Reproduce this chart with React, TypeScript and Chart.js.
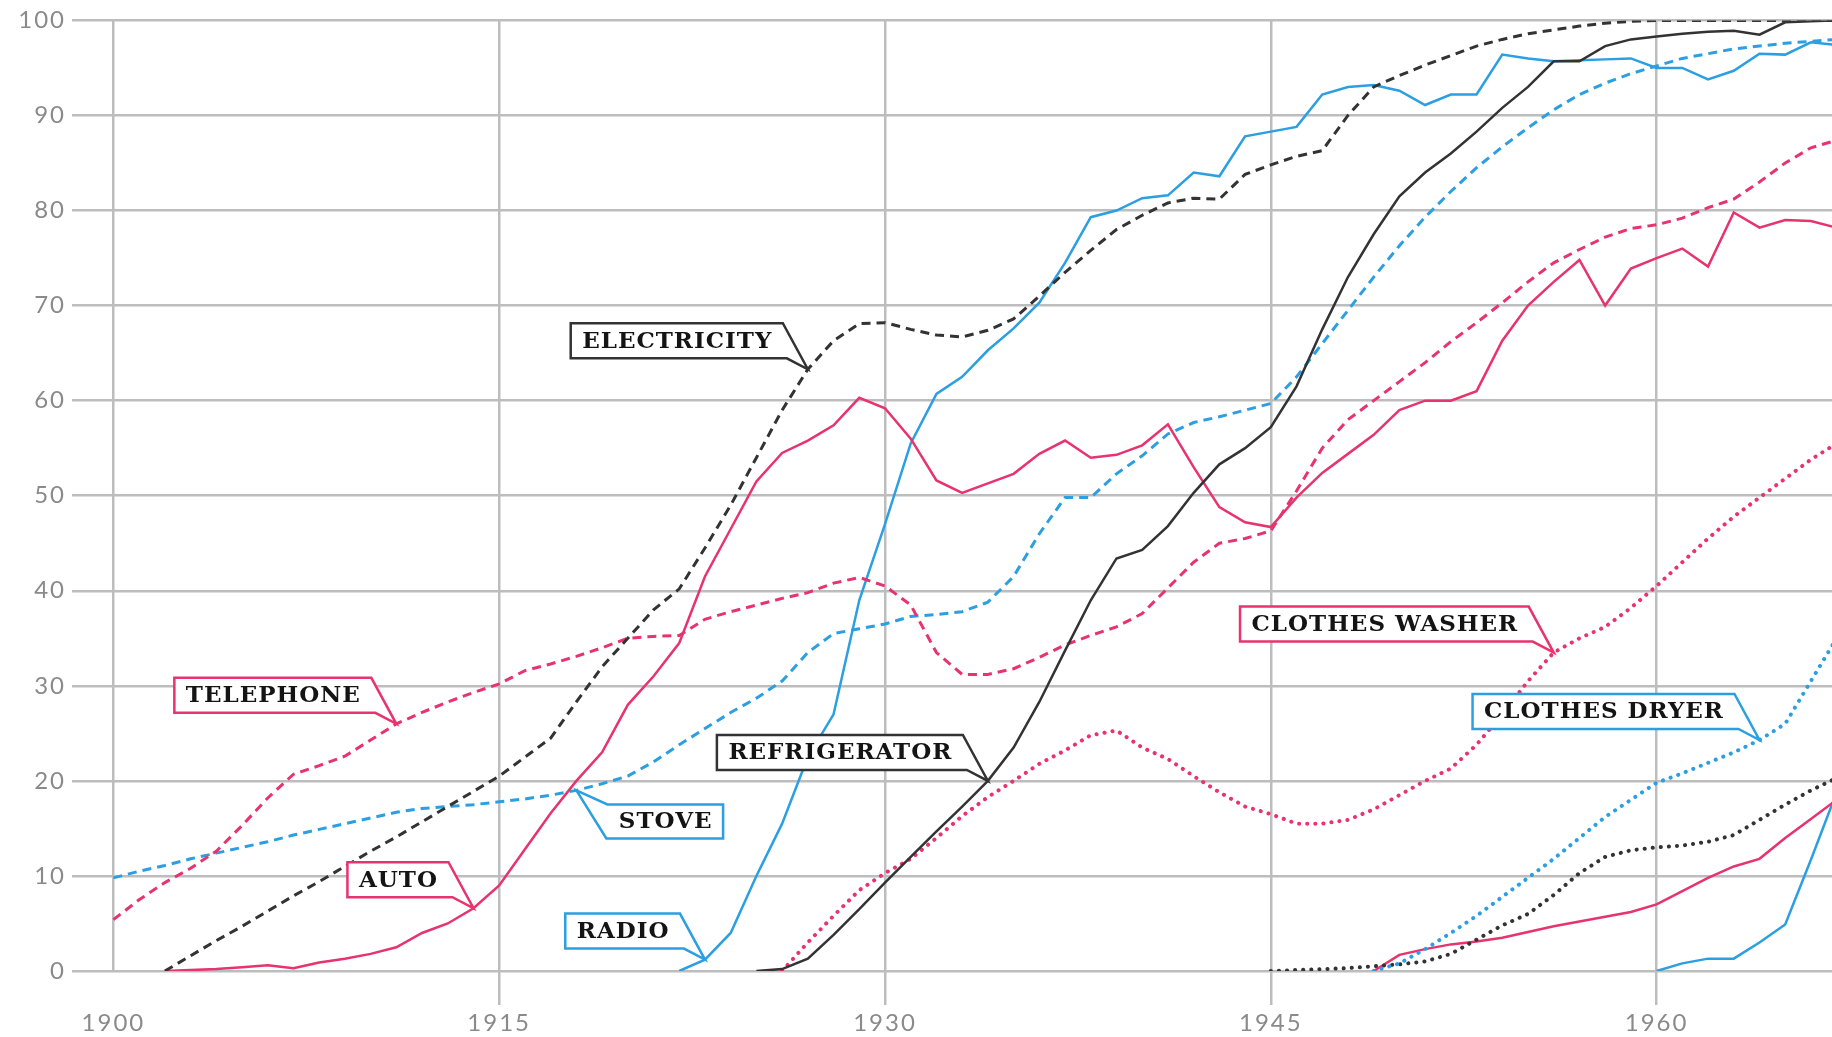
import React, { useEffect, useRef } from "react";
import { Chart, registerables } from "chart.js";

Chart.register(...registerables);

// ---------- data ----------
const X_TICKS = [1900, 1915, 1930, 1945, 1960];
const Y_TICKS = [0, 10, 20, 30, 40, 50, 60, 70, 80, 90, 100];

const ELECTRICITY_START = 1902;
const ELECTRICITY = [
  0, 1.6, 3.2, 4.7, 6.3, 7.9, 9.4, 11, 12.6, 14.1, 15.7, 17.3, 18.9, 20.5,
  22.5, 24.5, 28.3, 32, 35, 38, 40.2, 44.5, 49, 54, 59, 63.3, 66.3, 68.1, 68.2,
  67.5, 66.9, 66.7, 67.4, 68.6, 71, 73.5, 75.8, 78, 79.5, 80.8, 81.3, 81.2,
  83.8, 84.8, 85.7, 86.3, 90, 93, 94.2, 95.3, 96.3, 97.3, 98, 98.6, 99, 99.4,
  99.7, 99.9, 100, 100, 100, 100, 100, 100, 100, 100,
];

const REFRIGERATOR_START = 1925;
const REFRIGERATOR = [
  0, 0.2, 1.3, 3.8, 6.5, 9.3, 12, 14.7, 17.3, 20, 23.5, 28.3, 33.7, 39, 43.4,
  44.3, 46.8, 50.3, 53.3, 55, 57.2, 61.5, 67.5, 73, 77.5, 81.5, 84, 86, 88.3,
  90.8, 93, 95.7, 95.7, 97.3, 98, 98.3, 98.6, 98.8, 98.9, 98.5, 99.8, 99.9, 100,
];

const TELEPHONE_START = 1900;
const TELEPHONE = [
  5.4, 7.5, 9.3, 10.8, 12.6, 15.3, 18.2, 20.7, 21.6, 22.6, 24.3, 26, 27.2, 28.3,
  29.3, 30.2, 31.6, 32.3, 33.1, 34, 35, 35.2, 35.3, 37, 37.8, 38.5, 39.2, 39.8,
  40.8, 41.4, 40.5, 38.5, 33.5, 31.2, 31.2, 31.8, 33, 34.3, 35.3, 36.2, 37.6,
  40.3, 43, 45, 45.5, 46.3, 50.5, 55, 58, 60, 62, 64, 66.2, 68.2, 70.3, 72.5,
  74.5, 75.9, 77.2, 78.1, 78.5, 79.2, 80.3, 81.2, 83, 85, 86.6, 87.4,
];

const AUTO_START = 1902;
const AUTO = [
  0, 0.1, 0.2, 0.4, 0.6, 0.3, 0.9, 1.3, 1.8, 2.5, 4, 5, 6.6, 9, 12.8, 16.6, 20,
  23, 28, 31, 34.5, 41.5, 46.5, 51.5, 54.5, 55.8, 57.4, 60.3, 59.2, 56, 51.6,
  50.3, 51.3, 52.3, 54.4, 55.8, 54, 54.3, 55.3, 57.5, 53, 48.8, 47.2, 46.7,
  49.8, 52.4, 54.4, 56.4, 59, 60, 60, 61, 66.3, 70, 72.5, 74.8, 70, 73.9, 75,
  76, 74.1, 79.8, 78.2, 79, 78.9, 78.2,
];

const RADIO_START = 1922;
const RADIO = [
  0, 1.2, 4, 10, 15.5, 22.5, 27, 39, 47, 55.5, 60.7, 62.5, 65.3, 67.6, 70.3,
  74.5, 79.3, 80, 81.3, 81.6, 84, 83.6, 87.8, 88.3, 88.8, 92.2, 93, 93.2, 92.6,
  91.1, 92.2, 92.2, 96.4, 96, 95.7, 95.8, 95.9, 96, 95, 95, 93.8, 94.7, 96.5,
  96.4, 97.7, 97.4,
];

const STOVE_START = 1900;
const STOVE = [
  9.8, 10.5, 11.1, 11.8, 12.4, 13, 13.6, 14.3, 14.9, 15.5, 16.1, 16.7, 17.1,
  17.3, 17.5, 17.8, 18.1, 18.5, 19, 19.7, 20.5, 22, 23.8, 25.5, 27.2, 28.7,
  30.5, 33.5, 35.5, 36, 36.5, 37.3, 37.5, 37.8, 38.8, 41.5, 46, 49.8, 49.8,
  52.3, 54.2, 56.5, 57.7, 58.3, 59, 59.7, 62.5, 66, 69.5, 73, 76.3, 79.3, 82,
  84.5, 86.7, 88.7, 90.6, 92.2, 93.4, 94.4, 95.2, 96, 96.5, 97, 97.3, 97.6,
  97.8, 98,
];

const WASHER_START = 1926;
const WASHER = [
  0, 3, 5.8, 8.5, 10.3, 11.8, 14, 16.3, 18.3, 20, 21.8, 23.2, 24.8, 25.3, 23.5,
  22.3, 20.5, 18.8, 17.3, 16.5, 15.5, 15.5, 15.9, 17, 18.5, 20, 21.3, 23.8, 27,
  30.5, 33.5, 35, 36.2, 38.2, 40.5, 43, 45.5, 47.8, 49.8, 51.8, 53.8, 55.5,
];

const DRYER_START = 1949;
const DRYER = [
  0, 0.8, 2.3, 4, 5.8, 7.8, 9.8, 11.8, 14, 16.2, 18, 19.8, 20.8, 21.9, 23,
  24.3, 26, 30.5, 35,
];

const DISHWASHER_START = 1945;
const DISHWASHER = [
  0, 0.1, 0.2, 0.3, 0.5, 0.7, 1, 1.8, 3.3, 4.8, 6, 8, 10.3, 12, 12.7, 13, 13.2,
  13.6, 14.3, 15.9, 17.5, 19, 20.3,
];

const AIRCON_START = 1949;
const AIRCON = [
  0, 1.7, 2.3, 2.8, 3.1, 3.5, 4.1, 4.7, 5.2, 5.7, 6.2, 7, 8.4, 9.8, 11, 11.8,
  14, 16, 18,
];

const COLOR_TV_START = 1960;
const COLOR_TV = [0, 0.8, 1.3, 1.3, 3, 4.9, 11.7, 18.8];

// ---------- styles ----------
const PINK = "#e7336e";
const BLUE = "#2b9fe1";
const BLACK = "#333333";
const GRID = "#bdbdbd";
const TICK_TEXT = "#8a8a8a";

type LineStyle = "solid" | "dashed" | "dotted";

const SERIES: {
  name: string;
  start: number;
  values: number[];
  color: string;
  style: LineStyle;
}[] = [
  { name: "Electricity", start: ELECTRICITY_START, values: ELECTRICITY, color: BLACK, style: "dashed" },
  { name: "Refrigerator", start: REFRIGERATOR_START, values: REFRIGERATOR, color: BLACK, style: "solid" },
  { name: "Telephone", start: TELEPHONE_START, values: TELEPHONE, color: PINK, style: "dashed" },
  { name: "Auto", start: AUTO_START, values: AUTO, color: PINK, style: "solid" },
  { name: "Radio", start: RADIO_START, values: RADIO, color: BLUE, style: "solid" },
  { name: "Stove", start: STOVE_START, values: STOVE, color: BLUE, style: "dashed" },
  { name: "Clothes washer", start: WASHER_START, values: WASHER, color: PINK, style: "dotted" },
  { name: "Clothes dryer", start: DRYER_START, values: DRYER, color: BLUE, style: "dotted" },
  { name: "Dishwasher", start: DISHWASHER_START, values: DISHWASHER, color: BLACK, style: "dotted" },
  { name: "Air conditioning", start: AIRCON_START, values: AIRCON, color: PINK, style: "solid" },
  { name: "Color TV", start: COLOR_TV_START, values: COLOR_TV, color: BLUE, style: "solid" },
];

const CALLOUTS: { text: string; series: string; year: number; side: "left" | "right" }[] = [
  { text: "TELEPHONE", series: "Telephone", year: 1911, side: "left" },
  { text: "AUTO", series: "Auto", year: 1914, side: "left" },
  { text: "ELECTRICITY", series: "Electricity", year: 1927, side: "left" },
  { text: "REFRIGERATOR", series: "Refrigerator", year: 1934, side: "left" },
  { text: "RADIO", series: "Radio", year: 1923, side: "left" },
  { text: "STOVE", series: "Stove", year: 1918, side: "right" },
  { text: "CLOTHES WASHER", series: "Clothes washer", year: 1956, side: "left" },
  { text: "CLOTHES DRYER", series: "Clothes dryer", year: 1964, side: "left" },
];

const W = 1832;
const H = 1037;

const calloutPlugin = {
  id: "callouts",
  afterDatasetsDraw(chart: any) {
    const ctx: CanvasRenderingContext2D = chart.ctx;
    const xs = chart.scales.x;
    const ys = chart.scales.y;
    CALLOUTS.forEach((c) => {
      const s = SERIES.find((d) => d.name === c.series);
      if (!s) return;
      const v = s.values[c.year - s.start];
      const px = xs.getPixelForValue(c.year);
      const py = ys.getPixelForValue(v);
      ctx.save();
      ctx.font = 'bold 23px "DejaVu Serif"';
      (ctx as any).letterSpacing = "1px";
      const tw = ctx.measureText(c.text).width;
      const pad = 11;
      const w = tw + pad * 2;
      let tx = 0;
      let ty = 0;
      ctx.beginPath();
      if (c.side === "left") {
        const right = px - 25;
        const left = right - w;
        const top = py - 46;
        const bottom = py - 11;
        ctx.moveTo(left, top);
        ctx.lineTo(right, top);
        ctx.lineTo(px, py);
        ctx.lineTo(right + 4, bottom);
        ctx.lineTo(left, bottom);
        ctx.closePath();
        tx = (left + right) / 2;
        ty = (top + bottom) / 2;
      } else {
        const left = px + 31;
        const top = py + 14;
        const bottom = py + 48;
        const right = left + w;
        ctx.moveTo(px, py);
        ctx.lineTo(left, top);
        ctx.lineTo(right, top);
        ctx.lineTo(right, bottom);
        ctx.lineTo(px + 30, bottom);
        ctx.closePath();
        tx = (left + right) / 2;
        ty = (top + bottom) / 2;
      }
      ctx.fillStyle = "#ffffff";
      ctx.fill();
      ctx.strokeStyle = s.color;
      ctx.lineWidth = 2.5;
      ctx.lineJoin = "miter";
      ctx.stroke();
      ctx.fillStyle = "#141414";
      ctx.textAlign = "center";
      ctx.textBaseline = "middle";
      ctx.fillText(c.text, tx + 0.5, ty + 1);
      ctx.restore();
    });
  },
};

const spacingPlugin = {
  id: "tickSpacing",
  beforeDraw(chart: any) {
    (chart.ctx as any).letterSpacing = "2px";
  },
  afterDraw(chart: any) {
    (chart.ctx as any).letterSpacing = "0px";
  },
};

export default function App() {
  const ref = useRef<HTMLCanvasElement | null>(null);

  useEffect(() => {
    if (!ref.current) return;
    const datasets = SERIES.map((s) => {
      const base: any = {
        label: s.name,
        data: s.values.map((v, i) => ({ x: s.start + i, y: v })),
        borderColor: s.color,
        backgroundColor: s.color,
        pointRadius: 0,
        pointHoverRadius: 0,
        tension: 0,
        fill: false,
      };
      if (s.style === "solid") {
        base.borderWidth = 2.5;
      } else if (s.style === "dashed") {
        base.borderWidth = 3;
        base.borderDash = [9, 6];
      } else {
        base.borderWidth = 4;
        base.borderDash = [0.1, 8];
        base.borderCapStyle = "round";
      }
      return base;
    });

    const tickFont = { family: "Lato", size: 24, weight: "normal" as const };

    const chart = new Chart(ref.current, {
      type: "line",
      data: { datasets },
      options: {
        responsive: false,
        animation: false,
        events: [],
        layout: { padding: { top: 19, left: 0, right: 0, bottom: 0 } },
        plugins: {
          legend: { display: false },
          tooltip: { enabled: false },
          title: { display: false },
        },
        scales: {
          x: {
            type: "linear",
            min: 1898.39,
            max: 1966.82,
            afterBuildTicks: (scale: any) => {
              scale.ticks = X_TICKS.map((v) => ({ value: v }));
            },
            afterFit: (scale: any) => {
              scale.height = 66;
            },
            grid: {
              color: GRID,
              lineWidth: 2.5,
              drawTicks: true,
              tickLength: 34,
              tickColor: (c: any) =>
                c.tick && c.tick.value === X_TICKS[0] ? "rgba(0,0,0,0)" : GRID,
              tickWidth: 2.5,
            },
            border: { display: false },
            ticks: {
              autoSkip: false,
              maxRotation: 0,
              padding: 4,
              color: TICK_TEXT,
              font: tickFont,
              callback: (v: any) => String(v),
            },
          },
          y: {
            type: "linear",
            min: 0,
            max: 100,
            afterBuildTicks: (scale: any) => {
              scale.ticks = Y_TICKS.map((v) => ({ value: v }));
            },
            afterFit: (scale: any) => {
              scale.width = 72;
            },
            grid: { color: GRID, lineWidth: 2.5, drawTicks: false },
            border: { display: false },
            ticks: {
              padding: 6,
              color: TICK_TEXT,
              font: tickFont,
              callback: (v: any) => String(v),
            },
          },
        },
      },
      plugins: [spacingPlugin, calloutPlugin],
    });
    return () => chart.destroy();
  }, []);

  return (
    <div
      style={{
        position: "fixed",
        left: 0,
        top: 0,
        width: W,
        height: H,
        background: "#ffffff",
      }}
    >
      <canvas ref={ref} width={W} height={H} style={{ width: W, height: H, display: "block" }} />
    </div>
  );
}
